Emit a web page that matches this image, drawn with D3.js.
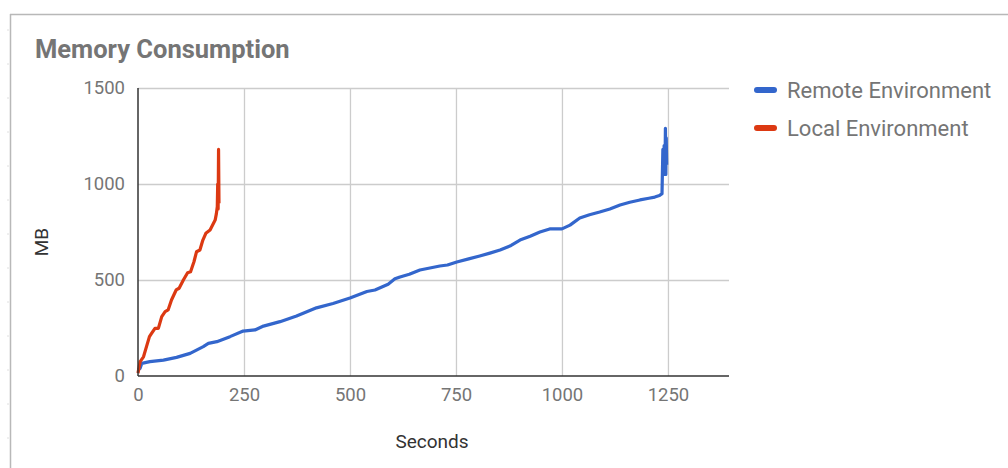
<!DOCTYPE html>
<html>
<head>
<meta charset="utf-8">
<script src="https://cdn.jsdelivr.net/npm/d3@7"></script>
<style>
  html, body { margin: 0; padding: 0; background: #fff; }
  svg { display: block; font-family: Roboto, "Noto Sans", Arial, sans-serif; }
</style>
</head>
<body>
<svg id="chart" width="1008" height="468"></svg>
<script>
// ---- data ----
const seriesNames = ["Remote Environment", "Local Environment"];
const seriesColors = ["#3366cc", "#dc3912"];

const remoteSeconds = [0, 5, 9, 28, 60, 91, 123, 154, 166, 186, 217, 248, 276, 296, 335, 374, 421, 460, 500, 540, 559, 590, 606, 618, 640, 665, 712, 730, 752, 780, 806, 830, 854, 880, 901, 925, 948, 971, 1000, 1019, 1042, 1065, 1089, 1113, 1137, 1160, 1184, 1205, 1219, 1230, 1236, 1238, 1240, 1241, 1243, 1244, 1245, 1246, 1247];
const remoteMB      = [31, 40, 66, 75, 83, 97, 118, 153, 170, 179, 205, 234, 240, 260, 283, 312, 355, 378, 406, 440, 448, 478, 506, 516, 530, 552, 573, 578, 594, 610, 625, 640, 656, 680, 708, 728, 750, 766, 766, 786, 823, 840, 854, 870, 891, 905, 917, 926, 932, 940, 950, 1180, 1050, 1200, 1060, 1290, 1050, 1240, 1100];

const localSeconds = [0, 5, 13, 20, 27, 32, 40, 48, 56, 64, 71, 79, 90, 97, 107, 117, 124, 132, 138, 146, 153, 160, 170, 182, 185, 187, 188, 189, 190, 191];
const localMB      = [15, 75, 100, 153, 205, 222, 248, 248, 309, 335, 344, 396, 448, 457, 500, 538, 543, 595, 647, 656, 708, 743, 760, 812, 847, 882, 1000, 870, 1180, 900];

const xTicks = [0, 250, 500, 750, 1000, 1250];
const yTicks = [0, 500, 1000, 1500];
const xMax = 1394;
const yMax = 1500;

// ---- layout ----
const svg = d3.select("#chart");
const plotL = 138, plotR = 729, plotT = 88, plotB = 376;

const x = d3.scaleLinear().domain([0, xMax]).range([plotL, plotR]);
const y = d3.scaleLinear().domain([0, yMax]).range([plotB, plotT]);

// frame (screenshot border)
svg.append("line").attr("x1", 10).attr("x2", 1008).attr("y1", 14.5).attr("y2", 14.5)
  .attr("stroke", "#b8b8b8").attr("stroke-width", 1.5);
svg.append("line").attr("x1", 10.5).attr("x2", 10.5).attr("y1", 14).attr("y2", 468)
  .attr("stroke", "#b8b8b8").attr("stroke-width", 1.5);
for (let yy = 30; yy < 468; yy += 34) {
  svg.append("line").attr("x1", 7).attr("x2", 9).attr("y1", yy).attr("y2", yy)
    .attr("stroke", "#e0e0e0").attr("stroke-width", 1);
}

// title
svg.append("text").attr("x", 35).attr("y", 58)
  .attr("font-size", 25.5).attr("font-weight", "bold").attr("fill", "#757575")
  .text("Memory Consumption");

// gridlines
const gx = d3.axisBottom(x).tickValues(xTicks.filter(d => d > 0)).tickSize(-(plotB - plotT)).tickFormat("");
svg.append("g").attr("transform", `translate(0,${plotB})`).call(gx)
  .call(g => g.select(".domain").remove())
  .call(g => g.selectAll("line").attr("stroke", "#cccccc").attr("stroke-width", 1.3));
const gy = d3.axisLeft(y).tickValues(yTicks.filter(d => d > 0)).tickSize(-(plotR - plotL)).tickFormat("");
svg.append("g").attr("transform", `translate(${plotL},0)`).call(gy)
  .call(g => g.select(".domain").remove())
  .call(g => g.selectAll("line").attr("stroke", "#cccccc").attr("stroke-width", 1.3));

// tick labels via axes
const ax = d3.axisBottom(x).tickValues(xTicks).tickSize(0).tickPadding(12).tickFormat(d3.format("d"));
svg.append("g").attr("transform", `translate(0,${plotB})`).call(ax)
  .call(g => g.select(".domain").remove())
  .call(g => g.selectAll("text").attr("font-size", 18.5).attr("fill", "#757575")
    .attr("font-family", "Roboto, sans-serif").attr("dy", "0.71em"));
const ay = d3.axisLeft(y).tickValues(yTicks).tickSize(0).tickPadding(13).tickFormat(d3.format("d"));
svg.append("g").attr("transform", `translate(${plotL},0)`).call(ay)
  .call(g => g.select(".domain").remove())
  .call(g => g.selectAll("text").attr("font-size", 18.5).attr("fill", "#757575")
    .attr("font-family", "Roboto, sans-serif"));

// lines
const line = d3.line().x(d => x(d[0])).y(d => y(d[1]));
const series = [
  d3.zip(remoteSeconds, remoteMB),
  d3.zip(localSeconds, localMB)
];
series.forEach((pts, i) => {
  svg.append("path").datum(pts).attr("d", line)
    .attr("fill", "none").attr("stroke", seriesColors[i]).attr("stroke-width", 3.2)
    .attr("stroke-linejoin", "round");
});

// baselines
svg.append("line").attr("x1", plotL).attr("x2", plotL).attr("y1", plotT).attr("y2", plotB)
  .attr("stroke", "#333").attr("stroke-width", 1.5);
svg.append("line").attr("x1", plotL).attr("x2", plotR).attr("y1", plotB).attr("y2", plotB)
  .attr("stroke", "#333").attr("stroke-width", 1.5);

// axis titles
svg.append("text").attr("x", 432).attr("y", 448).attr("text-anchor", "middle")
  .attr("font-size", 19).attr("fill", "#333").text("Seconds");
svg.append("text").attr("transform", "translate(48,242) rotate(-90)").attr("text-anchor", "middle")
  .attr("font-size", 19).attr("fill", "#333").text("MB");

// legend
const lg = svg.append("g");
seriesNames.forEach((name, i) => {
  const ly = 90 + i * 38;
  lg.append("line").attr("x1", 757).attr("x2", 774).attr("y1", ly).attr("y2", ly)
    .attr("stroke", seriesColors[i]).attr("stroke-width", 6).attr("stroke-linecap", "round");
  lg.append("text").attr("x", 787).attr("y", ly).attr("dy", "0.35em")
    .attr("font-size", 22).attr("fill", "#757575").text(name);
});
</script>
</body>
</html>
